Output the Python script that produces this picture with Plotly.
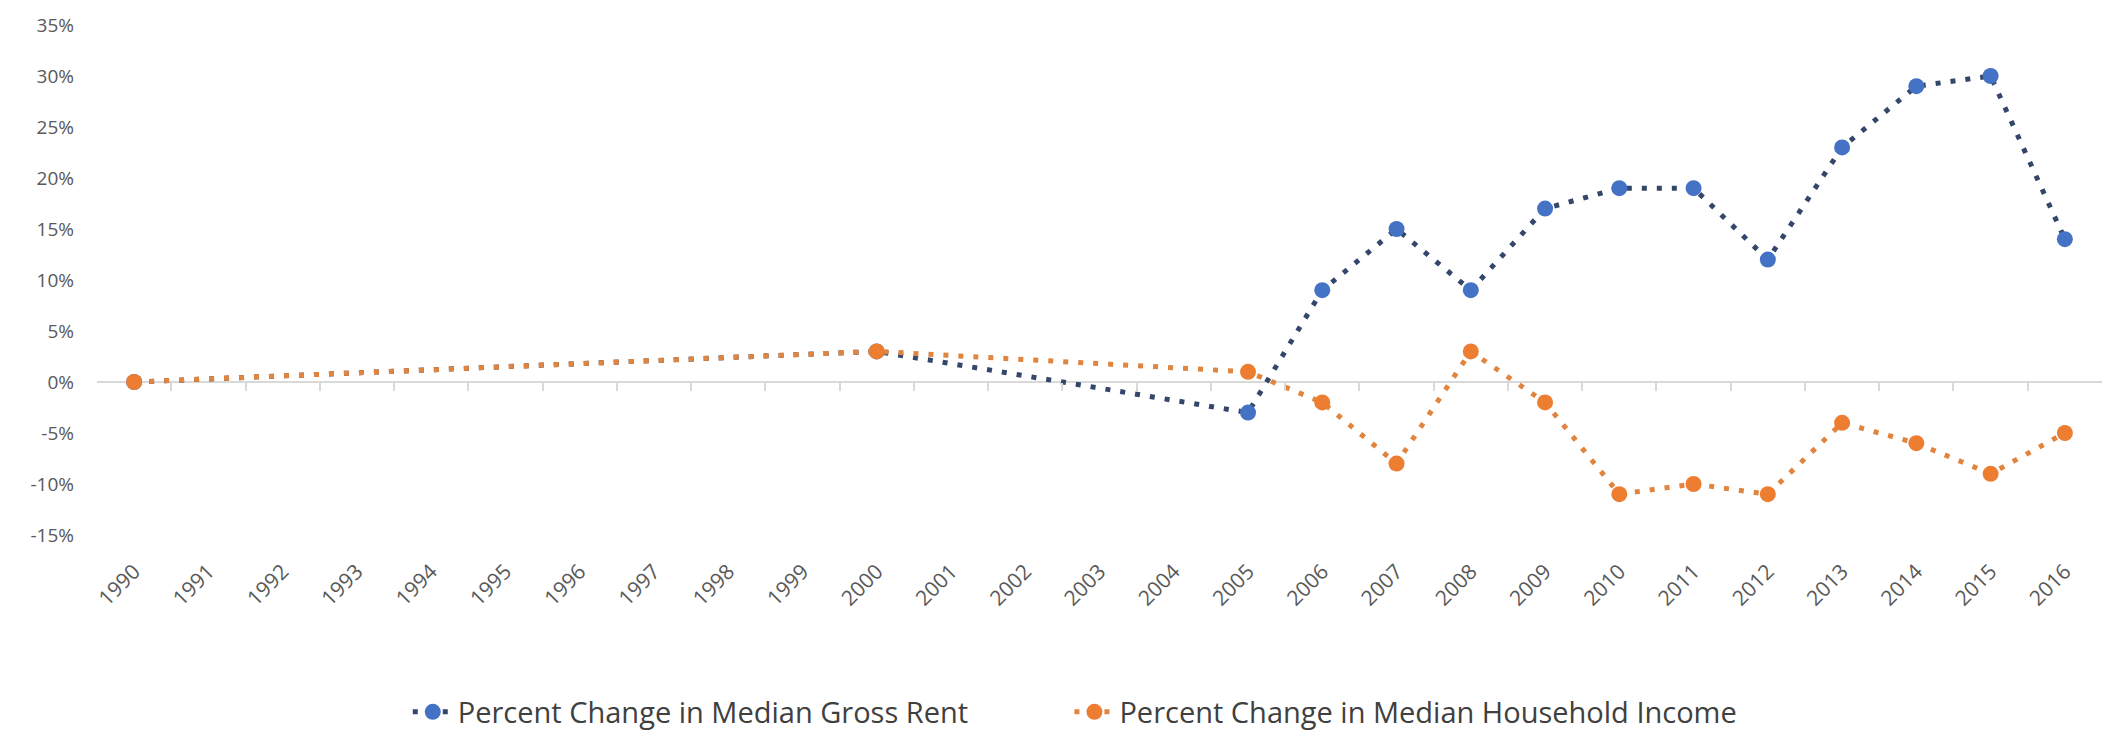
import plotly.graph_objects as go

years = list(range(1990, 2017))
rent_years = [1990, 2000, 2005, 2006, 2007, 2008, 2009, 2010, 2011, 2012, 2013, 2014, 2015, 2016]
rent_vals = [0, 3, -3, 9, 15, 9, 17, 19, 19, 12, 23, 29, 30, 14]
income_years = [1990, 2000, 2005, 2006, 2007, 2008, 2009, 2010, 2011, 2012, 2013, 2014, 2015, 2016]
income_vals = [0, 3, 1, -2, -8, 3, -2, -11, -10, -11, -4, -6, -9, -5]
y_ticks = [-15, -10, -5, 0, 5, 10, 15, 20, 25, 30, 35]

FONT = "Open Sans, Carlito, Liberation Sans, sans-serif"
Y_MIN, Y_MAX = -15, 35
X_RANGE = [years[0] - 0.5, years[-1] + 0.5]

fig = go.Figure()

fig.add_trace(go.Scatter(
    x=rent_years, y=rent_vals, mode="lines+markers",
    name="Percent Change in Median Gross Rent", legend="legend",
    line=dict(color="#34466A", width=5, dash="5px,10px"),
    marker=dict(color="#4472C4", size=16)))
fig.add_trace(go.Scatter(
    x=income_years, y=income_vals, mode="lines+markers",
    name="Percent Change in Median Household Income", legend="legend2",
    line=dict(color="#E0843E", width=5, dash="5px,10px"),
    marker=dict(color="#ED7D31", size=16)))

# invisible trace to carry the category-boundary tick axis at y = 0
fig.add_trace(go.Scatter(
    x=years, y=[None] * len(years), xaxis="x2", yaxis="y",
    mode="markers", showlegend=False, hoverinfo="skip", opacity=0))

zero_pos = (0 - Y_MIN) / (Y_MAX - Y_MIN)
bounds = [y + 0.5 for y in years[:-1]]

leg_common = dict(orientation="h", y=-0.347, yanchor="middle", xanchor="left",
                  font=dict(size=29, color="#404040"), itemwidth=40,
                  bgcolor="rgba(0,0,0,0)")

fig.update_layout(
    width=2103, height=739,
    margin=dict(l=97, r=1, t=25, b=204),
    paper_bgcolor="white", plot_bgcolor="white",
    font=dict(family=FONT, color="#595959"),
    legend=dict(x=0.155, **leg_common),
    legend2=dict(x=0.485, **leg_common),
    showlegend=True,
    xaxis=dict(
        range=X_RANGE, tickmode="array", tickvals=years,
        ticktext=[str(y) for y in years], tickangle=-45,
        tickfont=dict(size=21, color="#595959"),
        showgrid=False, zeroline=False, showline=False, ticks="",
        ticklabelstandoff=19),
    xaxis2=dict(overlaying="x", anchor="free", position=zero_pos,
                range=X_RANGE, tickmode="array", tickvals=bounds,
                showticklabels=False, ticks="outside", ticklen=8, tickwidth=1.5,
                tickcolor="#D9D9D9", showgrid=False, zeroline=False, showline=False),
    yaxis=dict(
        range=[Y_MIN, Y_MAX], tickvals=y_ticks, ticktext=[f"{v}%" for v in y_ticks],
        tickfont=dict(size=19, color="#595959"),
        showgrid=False, zeroline=True, zerolinecolor="#D9D9D9", zerolinewidth=1.5,
        showline=False, ticks="", ticklabelstandoff=22),
)

fig.write_html("out.html")
